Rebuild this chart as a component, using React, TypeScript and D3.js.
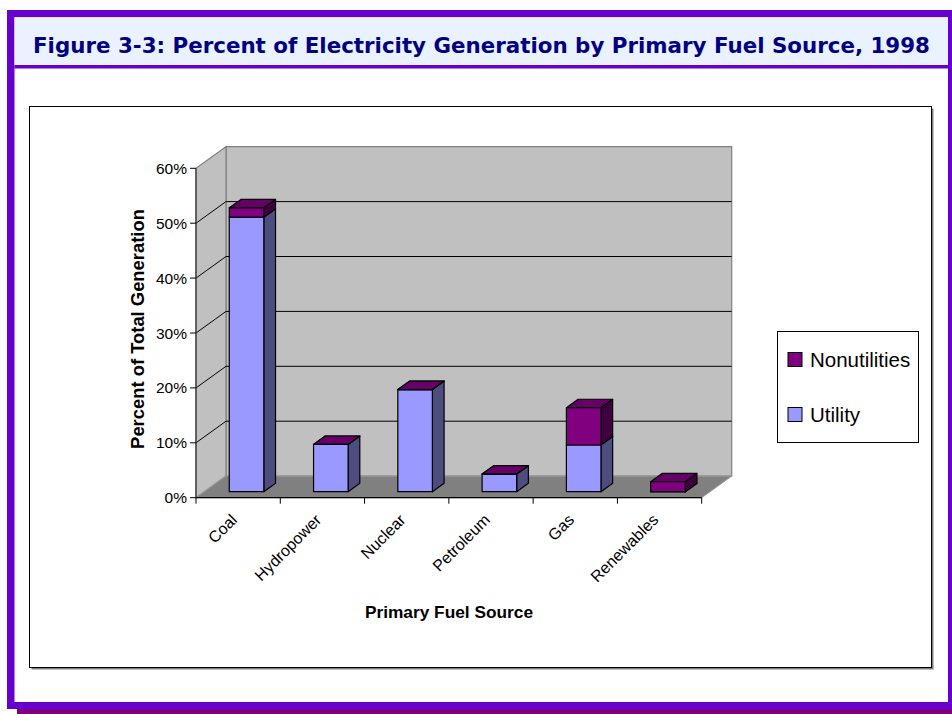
import React from "react";
import * as d3 from "d3";

// Share of 1998 U.S. electricity generation, by fuel and producer type (percent)
const categories = ["Coal", "Hydropower", "Nuclear", "Petroleum", "Gas", "Renewables"];
const utilityValues = [50.0, 8.6, 18.6, 3.2, 8.5, 0.0];
const nonutilityValues = [1.7, 0.0, 0.0, 0.0, 6.8, 1.8];
const seriesNames = ["Nonutilities", "Utility"];
const yTicks = [0, 10, 20, 30, 40, 50, 60];

const W = 952;
const H = 714;

// 3D geometry of the plot box
const X0 = 196;
const X1 = 701.7;
const DX = 30; // depth offset of the back wall, x
const DY = -21.6; // depth offset of the back wall, y
const BAR_FRONT = 0.28;
const BAR_BACK = 0.67;

const PURPLE = "#6600CC";
const SHADOW = "#7F007F";
const FONT = "'Liberation Sans', Arial, sans-serif";

const COLORS = {
  utility: { front: "#9999FF", side: "#4D4D80", top: "#7A7ACC" },
  nonutility: { front: "#800080", side: "#400040", top: "#660066" },
};

const x = d3.scaleBand<string>().domain(categories).range([X0, X1]).padding(0);
const y = d3.scaleLinear().domain([0, 60]).range([497.7, 168.3]);

const pt = (px: number, v: number, depth: number): [number, number] => [
  px + depth * DX,
  y(v) + depth * DY,
];
const poly = (pts: [number, number][]) => pts.map((p) => p.join(",")).join(" ");

type Seg = { lo: number; hi: number; c: { front: string; side: string; top: string } };

function Bar({ cat, segs }: { cat: string; segs: Seg[] }) {
  const bw = x.bandwidth() * 0.41;
  const cx = (x(cat) as number) + x.bandwidth() / 2;
  const xl = cx - bw / 2;
  const xr = cx + bw / 2;
  const stroke = { stroke: "#000", strokeWidth: 1.2, strokeLinejoin: "round" as const };
  return (
    <g>
      {segs.map((s, i) => {
        const front = [pt(xl, s.lo, BAR_FRONT), pt(xr, s.lo, BAR_FRONT), pt(xr, s.hi, BAR_FRONT), pt(xl, s.hi, BAR_FRONT)];
        const side = [pt(xr, s.lo, BAR_FRONT), pt(xr, s.lo, BAR_BACK), pt(xr, s.hi, BAR_BACK), pt(xr, s.hi, BAR_FRONT)];
        const top = [pt(xl, s.hi, BAR_FRONT), pt(xr, s.hi, BAR_FRONT), pt(xr, s.hi, BAR_BACK), pt(xl, s.hi, BAR_BACK)];
        return (
          <g key={i}>
            <polygon points={poly(top)} fill={s.c.top} {...stroke} />
            <polygon points={poly(side)} fill={s.c.side} {...stroke} />
            <polygon points={poly(front)} fill={s.c.front} {...stroke} />
          </g>
        );
      })}
    </g>
  );
}

export default function App() {
  const gridVals = yTicks.filter((v) => v > 0 && v < 60);
  const tickXs = [...categories.map((c) => x(c) as number), X1];

  return (
    <svg
      width={W}
      height={H}
      viewBox={`0 0 ${W} ${H}`}
      style={{ position: "absolute", left: 0, top: 0, display: "block" }}
    >
      {/* page frame */}
      <rect x={17} y={17} width={950} height={697} fill={SHADOW} />
      <rect x={7} y={10} width={960} height={699} fill={PURPLE} />
      <rect x={14.5} y={17.3} width={933.5} height={684.7} fill="#fff" />
      <rect x={14.5} y={17.3} width={933.5} height={47.7} fill="#EAF2FF" />
      <rect x={14.5} y={65} width={933.5} height={3.5} fill={PURPLE} />
      <text
        x={33}
        y={53}
        fontFamily="'DejaVu Sans', sans-serif"
        fontWeight="bold"
        fontSize={20.5}
        fill="#000080"
        textLength={897}
        lengthAdjust="spacingAndGlyphs"
      >
        Figure 3-3: Percent of Electricity Generation by Primary Fuel Source, 1998
      </text>

      {/* chart area */}
      <rect x={31.5} y={108.5} width={902} height={561} fill="#808080" />
      <rect x={29.5} y={106.5} width={902} height={561} fill="#fff" stroke="#000" strokeWidth={1} />

      {/* walls and floor */}
      <polygon
        points={poly([pt(X0, 0, 1), pt(X1, 0, 1), pt(X1, 60, 1), pt(X0, 60, 1)])}
        fill="#C0C0C0"
        stroke="#808080"
        strokeWidth={1.2}
      />
      <polygon
        points={poly([pt(X0, 0, 0), pt(X0, 60, 0), pt(X0, 60, 1), pt(X0, 0, 1)])}
        fill="#C0C0C0"
        stroke="#808080"
        strokeWidth={1.2}
      />
      <polygon
        points={poly([pt(X0, 0, 0), pt(X1, 0, 0), pt(X1, 0, 1), pt(X0, 0, 1)])}
        fill="#808080"
        stroke="#9a9a9a"
        strokeWidth={1}
      />
      {gridVals.map((v) => (
        <g key={v}>
          <line x1={pt(X0, v, 0)[0]} y1={pt(X0, v, 0)[1]} x2={pt(X0, v, 1)[0]} y2={pt(X0, v, 1)[1]} stroke="#000" strokeWidth={1} />
          <line x1={pt(X0, v, 1)[0]} y1={pt(X0, v, 1)[1]} x2={pt(X1, v, 1)[0]} y2={pt(X1, v, 1)[1]} stroke="#000" strokeWidth={1} />
        </g>
      ))}

      {/* bars */}
      {categories.map((c, i) => (
        <Bar
          key={c}
          cat={c}
          segs={[
            { lo: 0, hi: utilityValues[i], c: COLORS.utility },
            { lo: utilityValues[i], hi: utilityValues[i] + nonutilityValues[i], c: COLORS.nonutility },
          ]}
        />
      ))}

      {/* axes */}
      <line x1={X0} y1={y(0)} x2={X0} y2={y(60)} stroke="#333" strokeWidth={1.2} />
      <line x1={X0} y1={y(0)} x2={X1} y2={y(0)} stroke="#000" strokeWidth={1.2} />
      {yTicks.map((v) => (
        <g key={v}>
          <line x1={X0 - 6} y1={y(v)} x2={X0} y2={y(v)} stroke="#000" strokeWidth={1} />
          <text x={187} y={y(v) + 5.5} textAnchor="end" fontFamily={FONT} fontSize={15.5} fill="#000">
            {`${v}%`}
          </text>
        </g>
      ))}
      {tickXs.map((tx, i) => (
        <line key={i} x1={tx} y1={y(0)} x2={tx} y2={y(0) + 6} stroke="#000" strokeWidth={1} />
      ))}
      {categories.map((c) => {
        const cx = (x(c) as number) + x.bandwidth() / 2;
        return (
          <text
            key={c}
            transform={`translate(${cx - 4},${517}) rotate(-45)`}
            textAnchor="end"
            dominantBaseline="central"
            fontFamily={FONT}
            fontSize={16}
            fill="#000"
          >
            {c}
          </text>
        );
      })}
      <text
        transform="translate(144,329) rotate(-90)"
        textAnchor="middle"
        fontFamily={FONT}
        fontWeight="bold"
        fontSize={18.4}
        fill="#000"
      >
        Percent of Total Generation
      </text>
      <text x={449} y={618} textAnchor="middle" fontFamily={FONT} fontWeight="bold" fontSize={17.3} fill="#000">
        Primary Fuel Source
      </text>

      {/* legend */}
      <rect x={777.5} y={331.5} width={141} height={111} fill="#fff" stroke="#000" strokeWidth={1} />
      {seriesNames.map((name, i) => (
        <g key={name}>
          <rect
            x={788}
            y={352.5 + i * 55}
            width={14}
            height={14}
            fill={i === 0 ? COLORS.nonutility.front : COLORS.utility.front}
            stroke="#000"
            strokeWidth={1}
          />
          <text x={810} y={367 + i * 55} fontFamily={FONT} fontSize={20.5} fill="#000">
            {name}
          </text>
        </g>
      ))}
    </svg>
  );
}
